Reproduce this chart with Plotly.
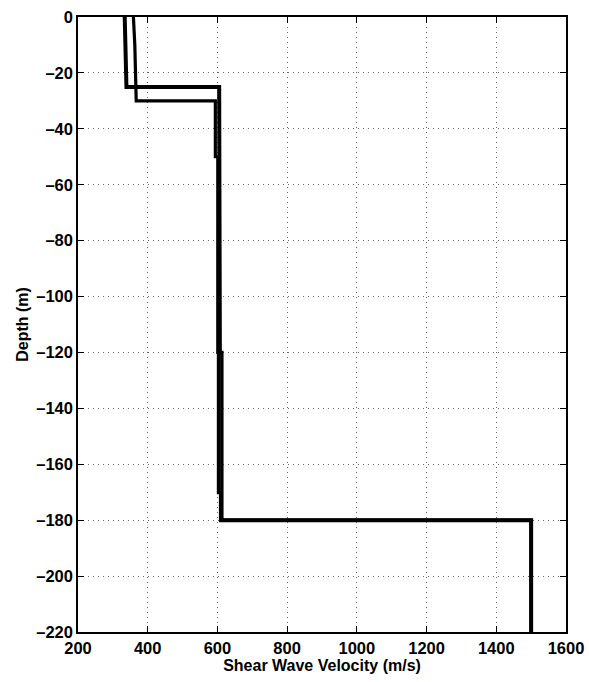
import plotly.graph_objects as go

# Shear wave velocity profiles (m/s) versus depth (m)
profile_a_vel = [334, 339, 605, 605, 607, 607, 604, 604, 610, 610, 1500, 1500]
profile_a_depth = [0, -25, -25, -50, -50, -120, -120, -170, -170, -180, -180, -220]

profile_b_vel = [359, 363, 367, 594, 594, 601, 601, 613, 613, 1500, 1500]
profile_b_depth = [0, -10, -30, -30, -50, -50, -120, -120, -180, -180, -220]

x_ticks = [200, 400, 600, 800, 1000, 1200, 1400, 1600]
y_ticks = [0, -20, -40, -60, -80, -100, -120, -140, -160, -180, -200, -220]

fig = go.Figure()
fig.add_trace(go.Scatter(x=profile_a_vel, y=profile_a_depth, mode="lines",
                         line=dict(color="black", width=4), showlegend=False))
fig.add_trace(go.Scatter(x=profile_b_vel, y=profile_b_depth, mode="lines",
                         line=dict(color="black", width=3.2), showlegend=False))

family = "Liberation Sans, Arial, sans-serif"
axis_common = dict(
    showline=True, mirror="ticks", linecolor="black", linewidth=1.5,
    ticks="inside", ticklen=6, tickwidth=1, tickcolor="black",
    showgrid=True, gridcolor="#666666", gridwidth=1, griddash="1px,4px",
    zeroline=False, automargin=False,
    tickfont=dict(family=family, size=16.5, color="black", weight="bold"),
)

fig.update_layout(
    width=589, height=682,
    margin=dict(l=78, r=23, t=17, b=50),
    paper_bgcolor="white", plot_bgcolor="white",
    font=dict(family=family, size=16, color="black"),
    xaxis=dict(range=[200, 1600], tickvals=x_ticks, ticktext=[str(v) for v in x_ticks],
               title=dict(text="<b>Shear Wave Velocity (m/s)</b>", standoff=0,
                          font=dict(size=16)),
               **axis_common),
    yaxis=dict(range=[-220, 0], tickvals=y_ticks,
               ticktext=[("\u2013" + str(-v)) if v < 0 else str(v) for v in y_ticks],
               title=dict(text="<b>Depth (m)</b>", standoff=4, font=dict(size=16)),
               **axis_common),
)

fig.write_html("out.html")
